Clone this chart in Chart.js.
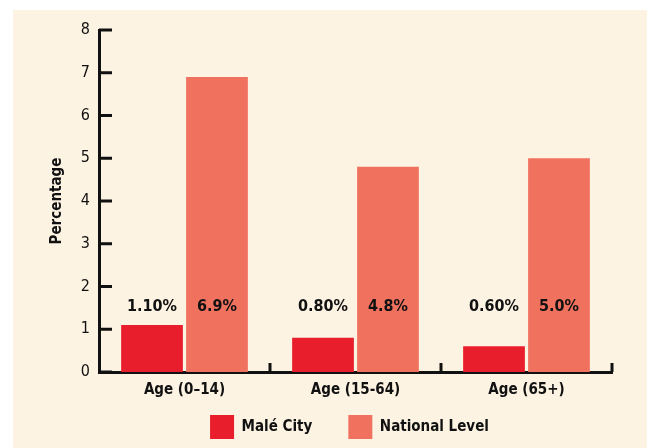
<!DOCTYPE html>
<html>
<head>
<meta charset="utf-8">
<script src="https://cdn.jsdelivr.net/npm/chart.js@4.4.1/dist/chart.umd.min.js"></script>
<style>
  html, body { margin: 0; padding: 0; background: #ffffff; }
  #wrap { position: absolute; left: 13px; top: 10px; width: 634px; height: 438px; background: #fdf3e3; }
</style>
</head>
<body>
<div id="wrap"><canvas id="chart"></canvas></div>
<script>
// datos del grafico
const categorias = ['Age (0\u201314)', 'Age (15-64)', 'Age (65+)'];
const maleCity = [1.1, 0.8, 0.6];
const nationalLevel = [6.9, 4.8, 5.0];
const maleLabels = ['1.10%', '0.80%', '0.60%'];
const nationalLabels = ['6.9%', '4.8%', '5.0%'];
const yTicks = [0, 1, 2, 3, 4, 5, 6, 7, 8];

const FONT = "'Liberation Sans Narrow', 'DejaVu Sans Condensed', 'Arial Narrow', sans-serif";
Chart.defaults.font.family = FONT;
Chart.defaults.color = '#111111';

// ticks hacia dentro + etiquetas de valor a altura fija
const decorPlugin = {
    id: 'decor',
    afterLayout(chart) {
        // sube la leyenda (el padding de las etiquetas deja mucho aire arriba)
        const lg = chart.legend;
        lg.top -= 29;
        lg.left -= 6;
        lg.right -= 6;
    },
    afterDraw(chart) {
        const c = chart.ctx;
        const x = chart.scales.x;
        const y = chart.scales.y;
        c.save();
        c.strokeStyle = '#111111';
        c.lineWidth = 3;
        // ticks del eje y
        yTicks.forEach(v => {
            const py = y.getPixelForValue(v);
            c.beginPath();
            c.moveTo(x.left, py);
            c.lineTo(x.left + 13, py);
            c.stroke();
        });
        // ticks del eje x en los limites de cada categoria
        for (let i = 0; i < categorias.length; i++) {
            const px = i < categorias.length - 1
                ? (x.getPixelForTick(i) + x.getPixelForTick(i + 1)) / 2
                : x.right;
            c.beginPath();
            c.moveTo(px, y.bottom);
            c.lineTo(px, y.bottom - 9);
            c.stroke();
        }
        // etiquetas de valores
        const labelY = y.getPixelForValue(1.52);
        c.font = 'bold 16px ' + FONT;
        c.fillStyle = '#111111';
        c.textAlign = 'center';
        c.textBaseline = 'middle';
        const textos = [maleLabels, nationalLabels];
        chart.data.datasets.forEach((ds, di) => {
            chart.getDatasetMeta(di).data.forEach((bar, i) => {
                c.fillText(textos[di][i], bar.x, labelY);
            });
        });
        c.restore();
    }
};

const ctx = document.getElementById('chart').getContext('2d');
const myChart = new Chart(ctx, {
    type: 'bar',
    data: {
        labels: categorias,
        datasets: [{
            label: 'Mal\u00e9 City',
            data: maleCity,
            backgroundColor: '#e81e2d',
            categoryPercentage: 0.76,
            barPercentage: 0.95
        }, {
            label: 'National Level',
            data: nationalLevel,
            backgroundColor: '#f0715e',
            categoryPercentage: 0.76,
            barPercentage: 0.95
        }]
    },
    options: {
        responsive: true,
        maintainAspectRatio: false,
        animation: false,
        layout: { padding: { left: 35, right: 35, top: 20, bottom: 0 } },
        scales: {
            x: {
                grid: { display: false, drawTicks: false },
                border: { display: true, color: '#111111', width: 3 },
                ticks: { padding: 9, font: { size: 15, weight: 'bold' }, color: '#111111' }
            },
            y: {
                min: 0,
                max: 8,
                grid: { display: false, drawTicks: false },
                border: { display: true, color: '#111111', width: 3 },
                ticks: { stepSize: 1, padding: 9, font: { size: 16 }, color: '#111111' },
                title: { display: true, text: 'Percentage', font: { size: 15, weight: 'bold' }, color: '#111111', padding: 0 },
                afterFit(scale) { scale.width = 51; }
            }
        },
        plugins: {
            legend: {
                position: 'bottom',
                fullSize: false,
                maxHeight: 40,
                labels: {
                    boxWidth: 24,
                    boxHeight: 24,
                    padding: 36,
                    color: '#111111',
                    font: { size: 15, weight: 'bold' }
                }
            },
            tooltip: { enabled: false },
            title: { display: false }
        }
    },
    plugins: [decorPlugin]
});
</script>
</body>
</html>
